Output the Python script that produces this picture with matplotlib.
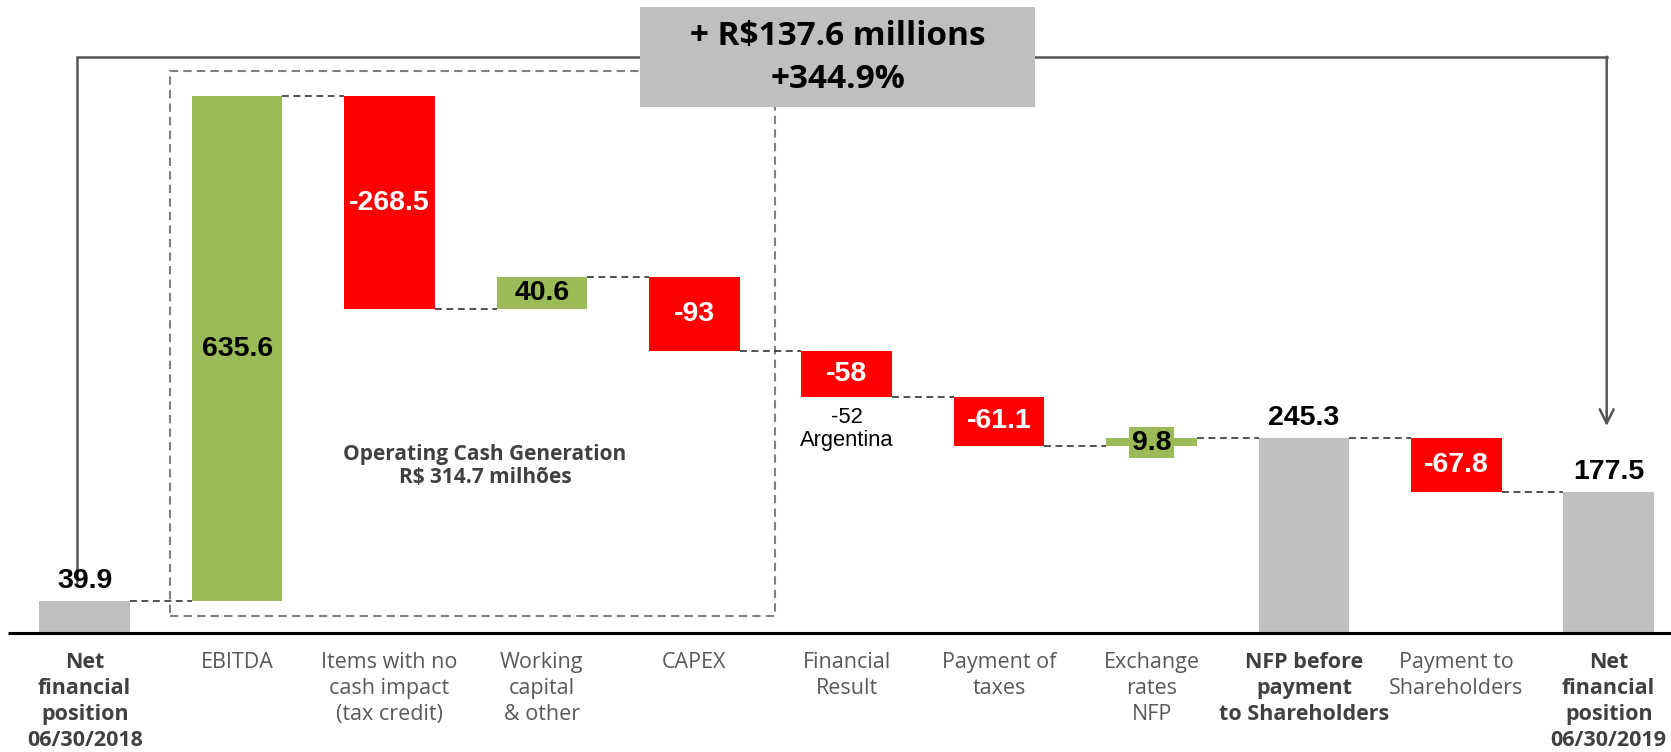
import matplotlib
matplotlib.use("Agg")
import matplotlib.pyplot as plt
from matplotlib.patches import Rectangle

# ---------------- data ----------------
categories = ["Net\nfinancial\nposition\n06/30/2018", "EBITDA", "Items with no\ncash impact\n(tax credit)",
              "Working\ncapital\n& other", "CAPEX", "Financial\nResult", "Payment of\ntaxes",
              "Exchange\nrates\nNFP", "NFP before\npayment\nto Shareholders", "Payment to\nShareholders",
              "Net\nfinancial\nposition\n06/30/2019"]
values = [39.9, 635.6, -268.5, 40.6, -93, -58, -61.1, 9.8, 245.3, -67.8, 177.5]
is_total = [True, False, False, False, False, False, False, False, True, False, True]
value_labels = ["39.9", "635.6", "-268.5", "40.6", "-93", "-58", "-61.1", "9.8", "245.3", "-67.8", "177.5"]
bold_cat = [True, False, False, False, False, False, False, False, True, False, True]
note_text = "-52\nArgentina"
note_index = 5
box_title = ["+ R$137.6 millions", "+344.9%"]
ocg_text = "Operating Cash Generation\nR$ 314.7 milhões"

# ---------------- style ----------------
GREEN = "#9BBB59"
RED = "#FF0000"
GRAY = "#BFBFBF"
W, H = 1671, 752
X0PX, DXPX = 84.7, 152.4   # pixel position of first bar centre, spacing
Y0PX, SCALE = 633.0, 0.795  # baseline pixel (from top), px per unit
BW = 0.594

def px_x(p):
    return (p - X0PX) / DXPX

def px_y(p):
    return (Y0PX - p) / SCALE

fig = plt.figure(figsize=(W / 100, H / 100), dpi=100)
ax = fig.add_axes([0, 0, 1, 1])
ax.set_xlim(px_x(0), px_x(W))
ax.set_ylim(px_y(H), px_y(0))
ax.axis("off")

# compute bars
bottoms, heights, colors, ends = [], [], [], []
running = 0.0
for v, t in zip(values, is_total):
    if t:
        running = v
        bottoms.append(0); heights.append(v); colors.append(GRAY)
    else:
        new = running + v
        bottoms.append(min(running, new)); heights.append(abs(v))
        colors.append(GREEN if v > 0 else RED)
        running = new
    ends.append(running)

xs = list(range(len(values)))
ax.bar(xs, heights, bottom=bottoms, width=BW, color=colors, edgecolor="none", zorder=3)

# dashed connectors
for i in range(len(values) - 1):
    ax.plot([i + BW / 2, i + 1 - BW / 2], [ends[i], ends[i]], color="#222222",
            lw=1.1, ls=(0, (4.5, 3)), zorder=2)

# baseline
ax.plot([px_x(8), px_x(W)], [0, 0], color="black", lw=2.2, zorder=4, solid_capstyle="butt")

# value labels
num_font = dict(family="Liberation Sans", weight="bold", fontsize=20.5)
for i, (v, t) in enumerate(zip(values, is_total)):
    if t:
        ax.annotate(value_labels[i], (i, heights[i]), xytext=(0, 5), textcoords="offset points",
                    ha="center", va="bottom", color="black", **num_font)
    elif abs(v) < 20:
        ax.text(i, ends[i] - 6, value_labels[i], ha="center", va="center", color="black",
                bbox=dict(boxstyle="square,pad=0.08", fc=GREEN, ec="none"), zorder=5, **num_font)
    else:
        ax.text(i, bottoms[i] + heights[i] / 2, value_labels[i], ha="center", va="center",
                color="black" if v > 0 else "white", zorder=5, **num_font)

# note below financial result
ax.annotate(note_text, (note_index, bottoms[note_index]), xytext=(0, -7), textcoords="offset points",
            ha="center", va="top", family="Liberation Sans", fontsize=15.8, color="black",
            linespacing=1.1)

# category labels
for i, c in enumerate(categories):
    ax.text(i, px_y(652), c, ha="center", va="top", family="Open Sans", fontsize=15.5,
            fontweight="bold" if bold_cat[i] else "normal",
            color="#404040" if bold_cat[i] else "#595959", linespacing=1.32)

# operating cash generation dashed box
ax.add_patch(Rectangle((px_x(170), px_y(616)), px_x(775) - px_x(170), px_y(70.7) - px_y(616),
                       fill=False, ec="#808080", lw=1.5, ls=(0, (4, 2.5)), zorder=1))
ax.text(px_x(485), px_y(466), ocg_text, ha="center", va="center", family="Open Sans",
        fontweight="bold", fontsize=15, color="#404040", linespacing=1.15)

# bracket connector with arrow
ytop = px_y(56.7)
ax.plot([px_x(76.7), px_x(76.7), px_x(1606.7)], [px_y(581), ytop, ytop],
        color="#555555", lw=1.8, zorder=1, solid_joinstyle="miter")
ax.annotate("", xy=(px_x(1606.7), px_y(426)), xytext=(px_x(1606.7), ytop),
            arrowprops=dict(arrowstyle="->,head_length=1.0,head_width=0.5", color="#555555",
                            lw=1.8, shrinkA=0, shrinkB=0))

# title box
ax.add_patch(Rectangle((px_x(640), px_y(107)), px_x(1035) - px_x(640), px_y(7) - px_y(107),
                       fc=GRAY, ec="none", zorder=6))
ax.text(px_x(837.5), px_y(37), box_title[0], ha="center", va="center", family="Open Sans",
        fontweight="bold", fontsize=24, color="black", zorder=7)
ax.text(px_x(837.5), px_y(79), box_title[1], ha="center", va="center", family="Open Sans",
        fontweight="bold", fontsize=24, color="black", zorder=7)

fig.savefig("out.png", dpi=100)
